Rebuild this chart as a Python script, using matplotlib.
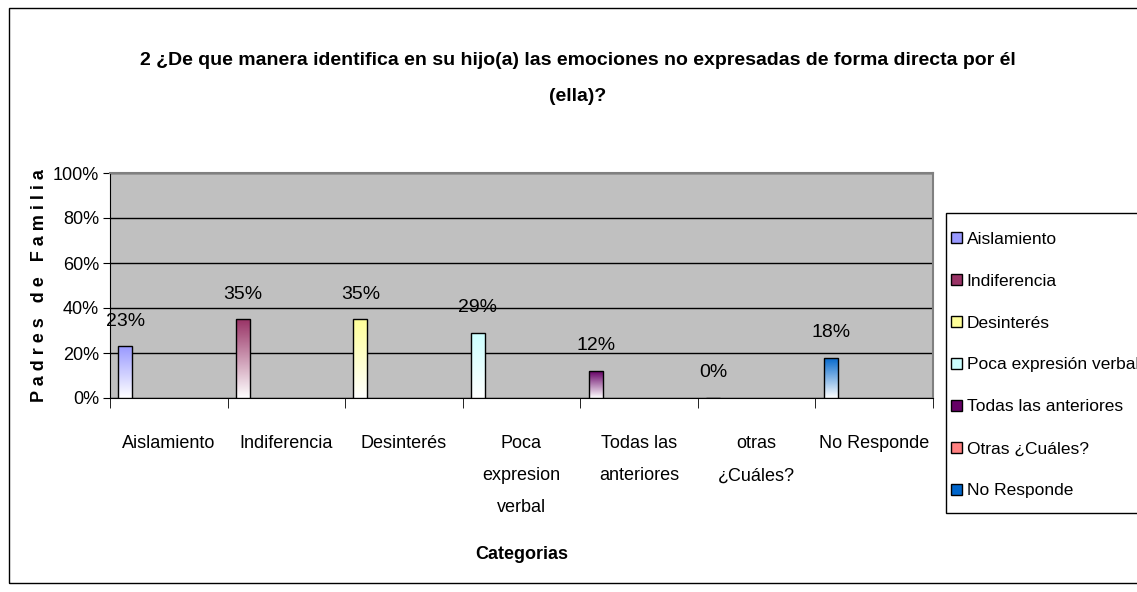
import numpy as np
import matplotlib
matplotlib.use("Agg")
import matplotlib.pyplot as plt
from matplotlib.colors import to_rgb
from matplotlib.patches import Rectangle

plt.rcParams['font.family'] = ['Liberation Sans', 'DejaVu Sans']

categorias = ["Aislamiento", "Indiferencia", "Desinterés", "Poca\nexpresion\nverbal",
              "Todas las\nanteriores", "otras\n¿Cuáles?", "No Responde"]
series = ["Aislamiento", "Indiferencia", "Desinterés", "Poca expresión verbal",
          "Todas las anteriores", "Otras ¿Cuáles?", "No Responde"]
valores = [23, 35, 35, 29, 12, 0, 18]
colores = ["#9999FF", "#993366", "#FFFF99", "#CCFFFF", "#660066", "#FF8080", "#0066CC"]

fig = plt.figure(figsize=(11.37, 5.92), dpi=100)
ax = fig.add_axes([110 / 1137, 1 - 398 / 592, 823 / 1137, 225 / 592])
ax.set_facecolor("#C0C0C0")

x = np.arange(len(categorias))
offset = -0.37
bars = ax.bar(x + offset, valores, width=0.12, facecolor="none",
              edgecolor="black", linewidth=1.0, zorder=4)

# degradado del color de la serie (arriba) a blanco (abajo)
for bar, c in zip(bars, colores):
    if bar.get_height() <= 0:
        continue
    top = np.array(to_rgb(c))
    t = np.linspace(0, 1, 256)[:, None]
    grad = top * (1 - t) + np.ones(3) * t
    grad = grad[:, None, :]
    x0 = bar.get_x()
    im = ax.imshow(grad, extent=(x0, x0 + bar.get_width(), 0, bar.get_height()),
                   aspect="auto", zorder=3, interpolation="bilinear")
    im.set_clip_path(bar)

for xi, v in zip(x, valores):
    ax.annotate(f"{v}%", (xi + offset, v), xytext=(0, 12), textcoords="offset points",
                ha="center", va="bottom", fontsize=14, zorder=5)

ax.set_xlim(-0.5, len(categorias) - 0.5)
ax.set_ylim(0, 100)
ax.set_yticks(range(0, 101, 20))
ax.set_yticklabels([f"{v}%" for v in range(0, 101, 20)], fontsize=13)
ax.yaxis.grid(True, color="black", linewidth=1.0)
ax.set_axisbelow(True)
ax.tick_params(axis="y", length=5, direction="out", pad=3)

ax.set_xticks(x)
ax.set_xticklabels(categorias, fontsize=13, linespacing=2.15, va="top")
ax.tick_params(axis="x", which="major", length=0, pad=27)
ax.set_xticks(np.arange(len(categorias) + 1) - 0.5, minor=True)
ax.tick_params(axis="x", which="minor", length=7, direction="out")

for s in ["top", "right"]:
    ax.spines[s].set_color("#808080")
    ax.spines[s].set_linewidth(1.5)
for s in ["left", "bottom"]:
    ax.spines[s].set_color("black")

ax.set_ylabel("P a d r e s   d e   F a m i l i a", fontsize=13, fontweight="bold", labelpad=3)
ax.set_xlabel("Categorias", fontsize=13, fontweight="bold", labelpad=21)

fig.suptitle("2 ¿De que manera identifica en su hijo(a) las emociones no expresadas de forma directa por él\n(ella)?",
             x=0.508, y=0.913, fontsize=14, fontweight="bold", linespacing=2.5)

# marco de la leyenda
fig.patches.append(Rectangle((946 / 1137, 1 - 513 / 592), 0.3, 300 / 592, transform=fig.transFigure,
                             facecolor="white", edgecolor="black", linewidth=1.0, zorder=1))
handles = [Rectangle((0, 0), 1, 1, facecolor=c, edgecolor="black", linewidth=1.0) for c in colores]
leg = fig.legend(handles, series, loc="center left", bbox_to_anchor=(946 / 1137, 1 - 365 / 592),
                 fontsize=12.5, frameon=False, handlelength=0.6, handleheight=0.6,
                 handletextpad=0.3, labelspacing=1.55, borderpad=0.3, borderaxespad=0)

fig.patches.append(Rectangle((9 / 1137, 9 / 592), 1.2, 575 / 592, transform=fig.transFigure,
                             fill=False, edgecolor="black", linewidth=1.0))

fig.savefig("out.png", dpi=100)
